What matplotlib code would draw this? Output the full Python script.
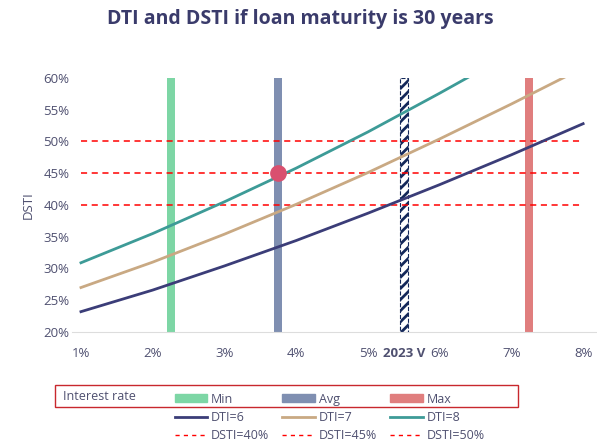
import matplotlib
matplotlib.use("Agg")
import matplotlib.pyplot as plt
from matplotlib.patches import Rectangle, Patch
from matplotlib.lines import Line2D

plt.rcParams['font.family'] = ['Open Sans', 'DejaVu Sans']
plt.rcParams['hatch.linewidth'] = 2.0

##### data
rates = [1, 2, 3, 4, 5, 6, 7, 8]                      # interest rate, %
dsti_dti6 = [23.2, 26.6, 30.4, 34.4, 38.7, 43.2, 47.9, 52.8]
dsti_dti7 = [27.0, 31.0, 35.4, 40.1, 45.1, 50.4, 55.9, 61.6]
dsti_dti8 = [30.9, 35.5, 40.5, 45.8, 51.5, 57.6, 63.9, 70.4]
dsti_limits = [40, 45, 50]
rate_min, rate_avg, rate_max = 2.25, 3.75, 7.25
rate_2023 = 5.5
avg_point = (3.75, 45)

navy = '#3b3d78'
tan = '#c9a983'
teal = '#3d9b97'
c_min = '#7dd6a5'
c_avg = '#7f8fb1'
c_max = '#e07e7e'
red = '#ff0000'
txt = '#4f5070'

fig = plt.figure(figsize=(5.97, 4.43), dpi=100)
ax = fig.add_axes([0.1206, 0.2506, 0.879, 0.5734])

bw = 0.11
ax.bar(rate_min, 40, bottom=20, width=bw, color=c_min, zorder=1)
ax.bar(rate_avg, 40, bottom=20, width=bw, color=c_avg, zorder=1)
ax.bar(rate_max, 40, bottom=20, width=bw, color=c_max, zorder=1)
ax.bar(rate_2023, 40, bottom=20, width=bw, color='white', edgecolor='#14285a',
       hatch='///', linewidth=0.8, linestyle='--', zorder=1)

for lvl in dsti_limits:
    ax.plot([rates[0], rates[-1]], [lvl, lvl], color=red, lw=1.1,
            dashes=(4, 3), zorder=2)

ax.plot(rates, dsti_dti6, color=navy, lw=2, zorder=3)
ax.plot(rates, dsti_dti7, color=tan, lw=2, zorder=3)
ax.plot(rates, dsti_dti8, color=teal, lw=2, zorder=3)
ax.plot(*avg_point, 'o', color='#d9506f', ms=11, zorder=4)

ax.set_xlim(0.875, 8.19)
ax.set_ylim(20, 60)
ax.set_yticks(range(20, 61, 5))
ax.set_yticklabels([f'{v}%' for v in range(20, 61, 5)])
xt = [1, 2, 3, 4, 5, rate_2023, 6, 7, 8]
ax.set_xticks(xt)
ax.set_xticklabels(['1%', '2%', '3%', '4%', '5%', '2023 V', '6%', '7%', '8%'])
for lab in ax.get_xticklabels():
    if lab.get_text() == '2023 V':
        lab.set_fontweight('bold')
        lab.set_fontsize(7.5)
        lab.set_color('#14285a')
ax.tick_params(axis='both', length=0, labelsize=9.5, labelcolor=txt)
ax.tick_params(axis='x', pad=11)
ax.tick_params(axis='y', pad=2)
for s in ['top', 'right', 'left']:
    ax.spines[s].set_visible(False)
ax.spines['bottom'].set_color('#dddddd')
ax.set_ylabel('DSTI', color=txt, fontsize=9.5, labelpad=6)

fig.text(0.503, 0.958, 'DTI and DSTI if loan maturity is 30 years', ha='center',
         va='center', fontsize=14, fontweight='bold', color='#3a3b6b')

# legend
fig.patches.append(Rectangle((55 / 597, 1 - 407 / 443), 463 / 597, 22 / 443,
                             transform=fig.transFigure, fill=False,
                             edgecolor='#c8282d', lw=1))
fig.text(63 / 597, 1 - 396 / 443, 'Interest rate', fontsize=9, color=txt, va='center')
dash = dict(color=red, lw=1.0, dashes=(3, 3))
handles = [Patch(color=c_min), Line2D([], [], color=navy, lw=2),
           Line2D([], [], **dash),
           Patch(color=c_avg), Line2D([], [], color=tan, lw=2),
           Line2D([], [], **dash),
           Patch(color=c_max), Line2D([], [], color=teal, lw=2),
           Line2D([], [], **dash)]
labels = ['Min', 'DTI=6', 'DSTI=40%', 'Avg', 'DTI=7', 'DSTI=45%',
          'Max', 'DTI=8', 'DSTI=50%']
leg = fig.legend(handles, labels, ncol=3, loc='upper left',
                 bbox_to_anchor=(166 / 597, 1 - 384 / 443), frameon=False,
                 fontsize=9, handlelength=2.6, handleheight=0.6,
                 handletextpad=0.3, columnspacing=1.05, labelspacing=0.4,
                 borderpad=0.2)
for t in leg.get_texts():
    t.set_color(txt)

fig.savefig('out.png', dpi=100)
